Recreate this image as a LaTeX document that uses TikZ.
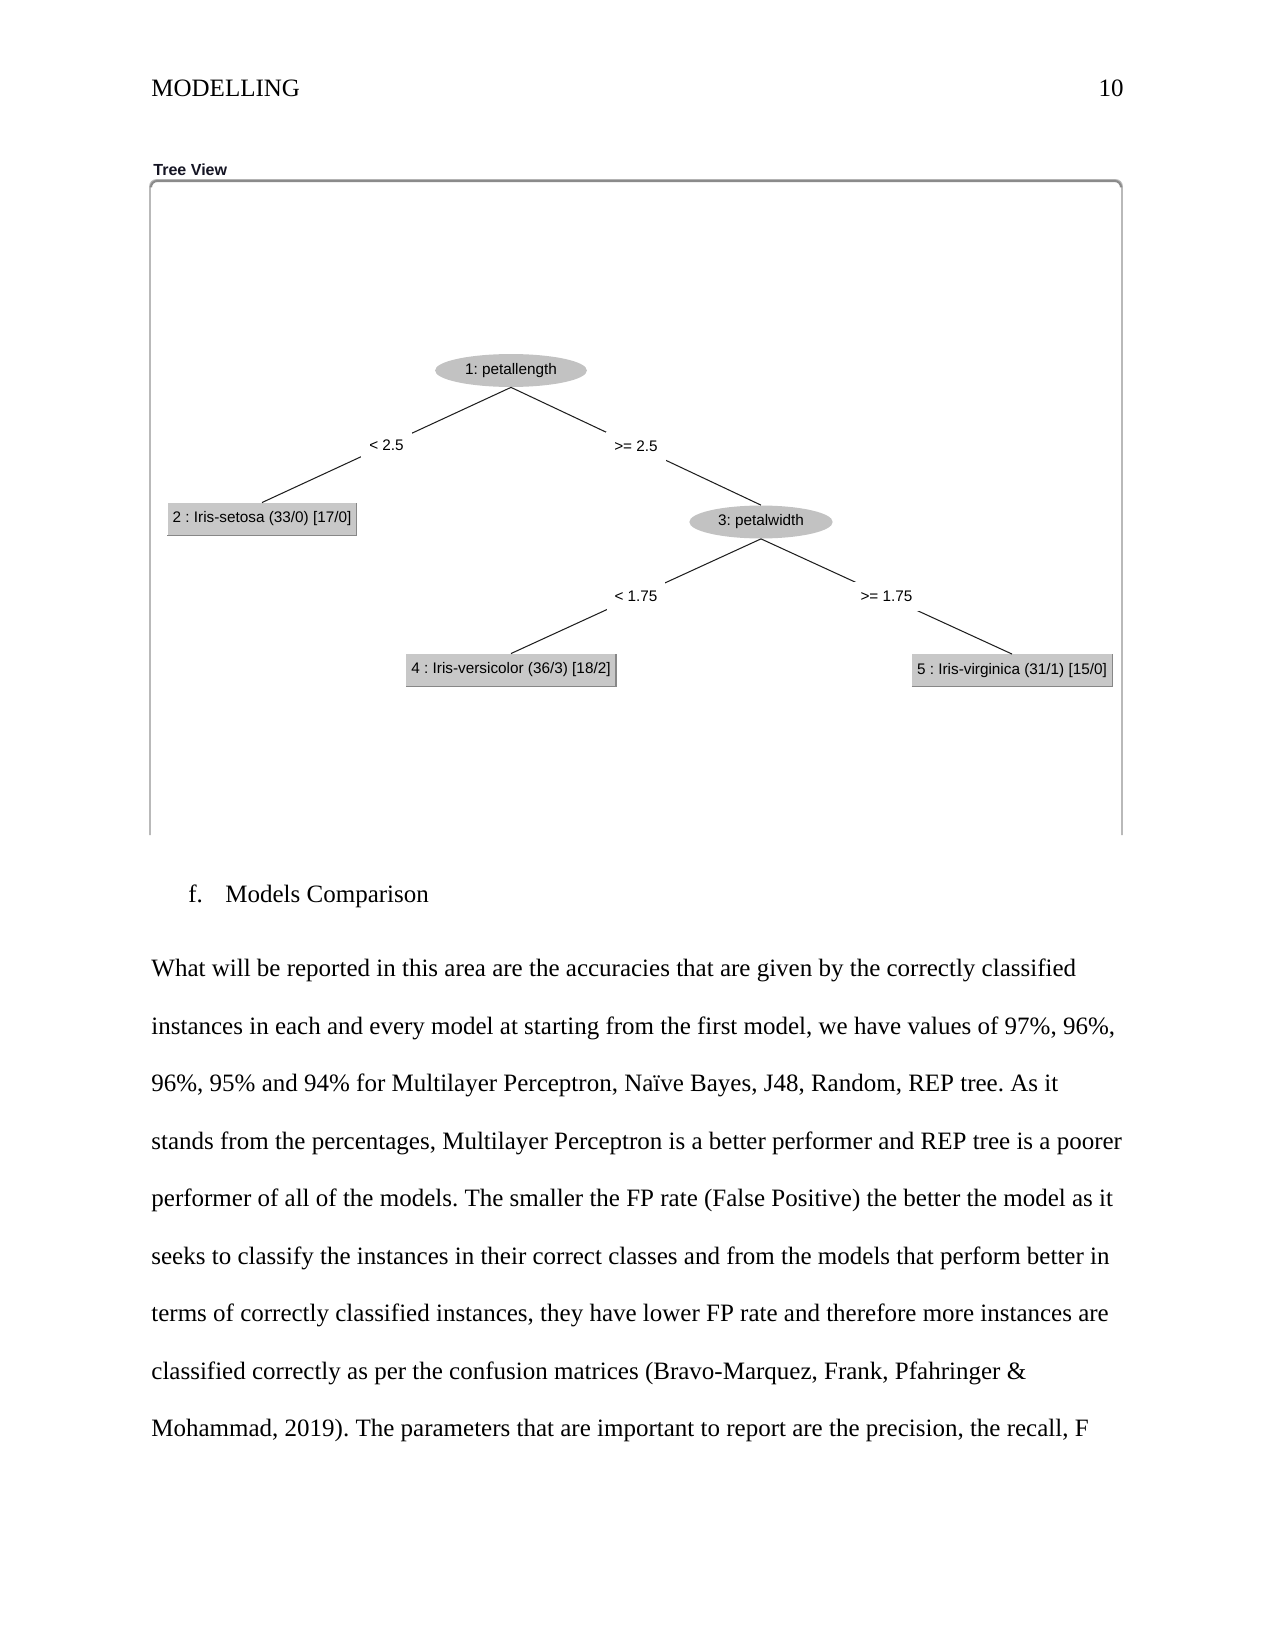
\documentclass[tikz,border=0pt]{standalone}
\usepackage{fontspec}
\setmainfont{Liberation Serif}
\newfontfamily\wekafont{Liberation Sans}
\usetikzlibrary{shapes.geometric}
\definecolor{cnode}{RGB}{194,194,194}
\definecolor{cleaf}{RGB}{200,200,200}
\definecolor{cshade}{RGB}{135,135,135}
\definecolor{cframe}{RGB}{185,185,185}
\definecolor{cedge}{RGB}{30,30,30}

\begin{document}
\frenchspacing
\begin{tikzpicture}[x=0.48pt,y=-0.48pt,
  wk/.style={font=\wekafont\fontsize{7.35}{9}\selectfont},
  split/.style={wk,ellipse,fill=cnode,inner xsep=3.7pt,inner ysep=2pt,minimum height=15.8pt},
  leaf/.style={wk,rectangle,fill=cleaf,inner xsep=2.4pt,minimum height=15.4pt},
  leafshade/.style={cshade,line width=0.5pt},
  branch/.style={cedge,line width=0.5pt},
  cond/.style={wk,fill=white,text=black,inner xsep=3.8pt,minimum height=14pt},
  frame/.style={cframe,line width=0.8pt,rounded corners=3pt},
  body/.style={anchor=base west,inner sep=0pt,font=\fontsize{12}{14}\selectfont},
]
\useasboundingbox (0,0) rectangle (1275,1651);

% running head
\node[body] (head) at (151,97) {MODELLING};
\node[body,anchor=base east] (page) at (1124,97) {10};

% tree view panel
\node[anchor=base west,inner sep=0pt,text={rgb,255:red,20;green,20;blue,35},
  font=\wekafont\bfseries\fontsize{7.7}{9}\selectfont] (title) at (153,176) {Tree View};
\draw[frame] (150,835) -- (150,180) -- (1122,180) -- (1122,835);
\draw[cframe!75!black,line width=1pt,rounded corners=3pt] (151,186) -- (151,181) -- (1121,181) -- (1121,186);

\node[split] (petlen) at (511,370.5) {1: petallength};
\node[leaf] (setosa) at (262,519) {2 : Iris-setosa (33/0) [17/0]};
\node[split] (petwid) at (761,522) {3: petalwidth};
\node[leaf] (versi) at (511,670) {4 : Iris-versicolor (36/3) [18/2]};
\node[leaf] (virgi) at (1012,670.5) {5 : Iris-virginica (31/1) [15/0]};
\foreach \n in {setosa,versi,virgi}
  \draw[leafshade] (\n.south west) -- (\n.south east) -- (\n.north east);

\draw[branch] (petlen.south) -- node[cond]{< 2.5} (setosa.north);
\draw[branch] (petlen.south) -- node[cond]{>= 2.5} (petwid.north);
\draw[branch] (petwid.south) -- node[cond]{< 1.75} (versi.north);
\draw[branch] (petwid.south) -- node[cond]{>= 1.75} (virgi.north);

% section text
\node[body] (item) at (188,902.7) {f.};
\node[body] (sect) at (225,902.7) {Models Comparison};
\foreach \txt [count=\k] in {
  {What will be reported in this area are the accuracies that are given by the correctly classified},
  {instances in each and every model at starting from the first model, we have values of 97\%, 96\%,},
  {96\%, 95\% and 94\% for Multilayer Perceptron, Naïve Bayes, J48, Random, REP tree. As it},
  {stands from the percentages, Multilayer Perceptron is a better performer and REP tree is a poorer},
  {performer of all of the models. The smaller the FP rate (False Positive) the better the model as it},
  {seeks to classify the instances in their correct classes and from the models that perform better in},
  {terms of correctly classified instances, they have lower FP rate and therefore more instances are},
  {classified correctly as per the confusion matrices (Bravo-Marquez, Frank, Pfahringer \&},
  {Mohammad, 2019). The parameters that are important to report are the precision, the recall, F}}
  \node[body] (line\k) at (151,{976.7+57.5*(\k-1)}) {\txt};
\end{tikzpicture}
\end{document}
